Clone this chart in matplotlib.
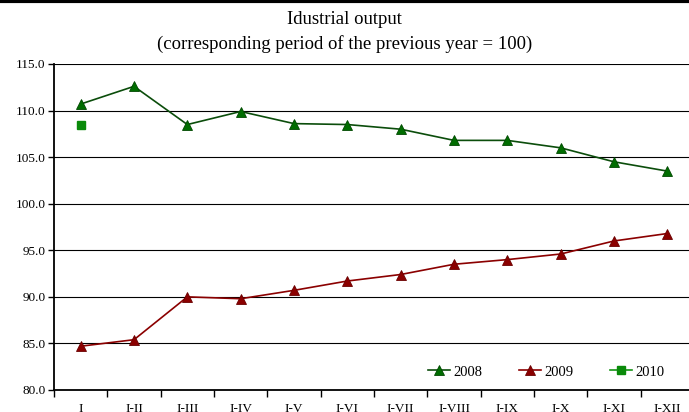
import numpy as np
import matplotlib
matplotlib.use("Agg")
import matplotlib.pyplot as plt
from matplotlib.lines import Line2D

periods = ["I", "I-II", "I-III", "I-IV", "I-V", "I-VI", "I-VII",
           "I-VIII", "I-IX", "I-X", "I-XI", "I-XII"]
output_2008 = [110.7, 112.6, 108.5, 109.9, 108.6, 108.5, 108.0,
               106.8, 106.8, 106.0, 104.5, 103.5]
output_2009 = [84.7, 85.4, 90.0, 89.8, 90.7, 91.7, 92.4,
               93.5, 94.0, 94.6, 96.0, 96.8]
output_2010 = [108.5]

plt.rcParams["font.family"] = ["Liberation Serif", "DejaVu Serif"]

fig = plt.figure(figsize=(6.89, 4.12), dpi=100)
# frame line along the top edge
fig.add_artist(Line2D([0, 1], [0.997, 0.997], color="black", lw=3,
                      transform=fig.transFigure))

ax = fig.add_axes([54 / 689, 1 - 390 / 412, 640 / 689, 326 / 412])
x = np.arange(len(periods))

ax.plot(x, output_2008, color="#0b4d0b", lw=1.2, marker="^", ms=6.5,
        mfc="#006d00", mec="#004800", mew=0.6, label="2008")
ax.plot(x, output_2009, color="#8b0000", lw=1.2, marker="^", ms=6.5,
        mfc="#8b0000", mec="#6a0000", mew=0.6, label="2009")
ax.plot(x[:len(output_2010)], output_2010, color="#149414", lw=1.2,
        marker="s", ms=6, mfc="#0a8a0a", mec="#0a8a0a", ls="-",
        label="2010")

ax.set_xlim(-0.5, len(periods) - 0.5)
ax.set_ylim(80, 115)
ax.set_yticks(np.arange(80, 116, 5))
ax.set_yticklabels([f"{v:.1f}" for v in np.arange(80, 116, 5)])
ax.yaxis.grid(True, color="black", lw=0.8)
ax.set_axisbelow(True)

ax.set_xticks(x)
ax.set_xticklabels(periods)
ax.set_xticks(np.arange(-0.5, len(periods), 1), minor=True)
ax.tick_params(axis="x", which="major", length=0, pad=9, labelsize=9.5)
ax.tick_params(axis="x", which="minor", length=5, width=1, direction="out")
ax.tick_params(axis="y", length=4, width=1, labelsize=9.5, pad=2)

for side in ("top", "right"):
    ax.spines[side].set_visible(False)
for side in ("left", "bottom"):
    ax.spines[side].set_linewidth(1.3)

ax.legend(loc="lower right", ncol=3, frameon=False, fontsize=10.5,
          handlelength=1.5, handletextpad=0.25, columnspacing=2.5,
          bbox_to_anchor=(0.975, -0.005))

fig.text(0.5, 1 - 20 / 412, "Idustrial output", ha="center", va="center",
         fontsize=13.5)
fig.text(0.5, 1 - 44 / 412,
         "(corresponding period of the previous year = 100)",
         ha="center", va="center", fontsize=13.5)

fig.savefig("out.png", dpi=100)
